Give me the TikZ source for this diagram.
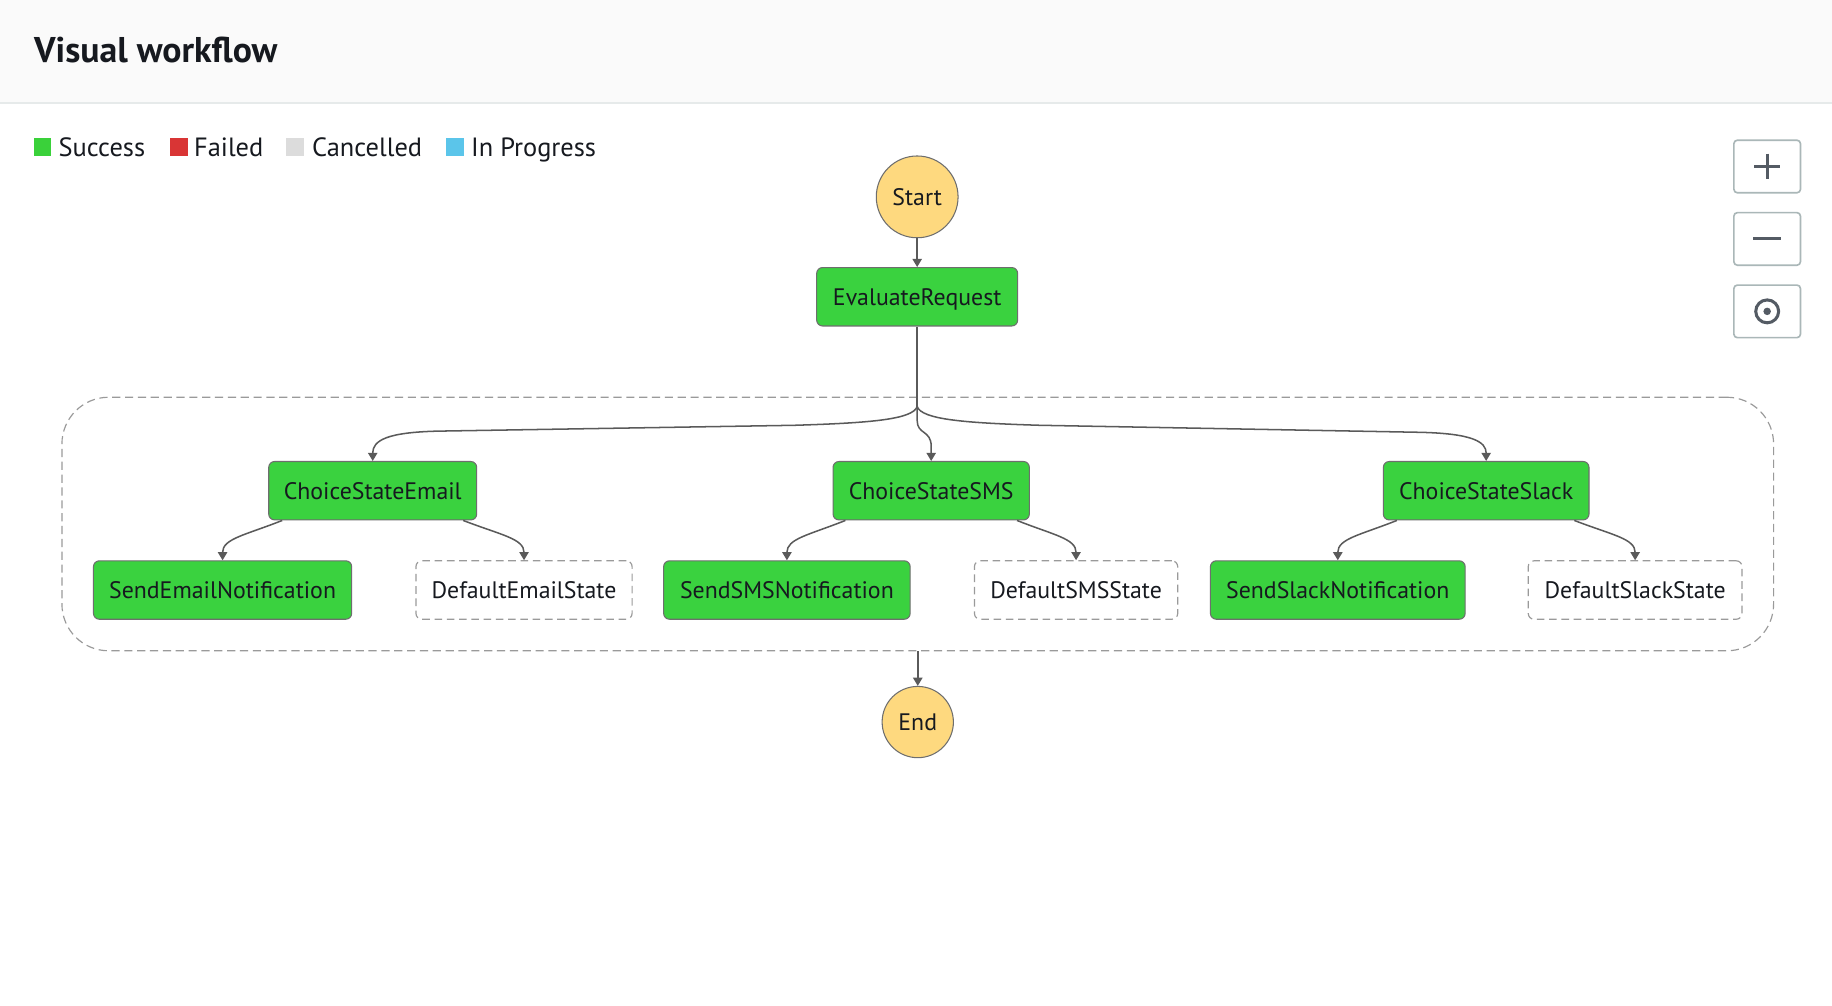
\documentclass[tikz,border=0pt]{standalone}
\usepackage{fontspec}
\setmainfont{PT Sans}
\usetikzlibrary{arrows.meta,calc}
\definecolor{ink}{HTML}{16191F}
\definecolor{hdrbg}{HTML}{FAFAFA}
\definecolor{hdrline}{HTML}{E6EAEA}
\definecolor{okgreen}{HTML}{3AD23F}
\definecolor{lgreen}{HTML}{3AD13A}
\definecolor{lred}{HTML}{D93535}
\definecolor{lgray}{HTML}{DCDCDC}
\definecolor{lblue}{HTML}{5BC5EA}
\definecolor{termfill}{HTML}{FED97F}
\definecolor{edge}{HTML}{5A5A5A}
\definecolor{bord}{HTML}{6E6E6E}
\definecolor{dashc}{HTML}{9A9A9A}
\definecolor{ctrlb}{HTML}{AAB7B8}
\definecolor{iconc}{HTML}{545B64}
\begin{document}
\begin{tikzpicture}[x=1pt,y=-1pt,
  lbl/.style={font=\fontsize{20.4}{23}\selectfont, text=ink},
  okbox/.style={lbl, draw=bord, line width=0.9pt, fill=okgreen, rounded corners=5pt,
    inner sep=0pt, minimum height=50pt, text height=14.3pt, text depth=0pt},
  defbox/.style={lbl, draw=dashc, line width=1pt, dash pattern=on 6.5pt off 4pt, fill=white,
    rounded corners=5pt, inner sep=0pt, minimum height=50pt, text height=14.3pt, text depth=0pt},
  term/.style={lbl, circle, draw=bord, line width=0.9pt, fill=termfill, inner sep=0pt,
    text height=14.3pt, text depth=0pt},
  grp/.style={draw=dashc, line width=1pt, dash pattern=on 7pt off 4pt, rounded corners=40pt,
    inner sep=0pt},
  arr/.style={draw=edge, line width=1.3pt, -{Triangle[length=7pt,width=8pt]}},
  ln/.style={draw=edge, line width=1.3pt},
  legsq/.style={minimum size=15pt, inner sep=0pt},
  legtxt/.style={anchor=base west, font=\fontsize{22.6}{25}\selectfont, text=ink, inner sep=0pt},
  ctrl/.style={draw=ctrlb, line width=1.4pt, rounded corners=3pt, minimum width=57pt,
    minimum height=45pt, inner sep=0pt, fill=white},
  icon/.style={draw=iconc, line width=2.6pt}
]
\useasboundingbox (0,0) rectangle (1568,861);
\fill[white] (0,0) rectangle (1568,861);
\fill[hdrbg] (0,0) rectangle (1568,88);
\draw[hdrline, line width=1.6pt] (0,88.5) -- (1568,88.5);
\node[anchor=base west, inner sep=0pt, font=\bfseries\fontsize{30.6}{33}\selectfont, text=ink] (title) at (29,53.5) {Visual workflow};

% legend
\node[legsq, fill=lgreen] (sq1) at (36.5,126) {};
\node[legtxt] (lt1) at (50,134) {Success};
\node[legsq, fill=lred] (sq2) at (153,126) {};
\node[legtxt] (lt2) at (166,134) {Failed};
\node[legsq, fill=lgray] (sq3) at (252.5,126) {};
\node[legtxt] (lt3) at (267,134) {Cancelled};
\node[legsq, fill=lblue] (sq4) at (389.5,126) {};
\node[legtxt] (lt4) at (403,134) {In Progress};

% zoom controls
\node[ctrl] (zin) at (1512.5,142.5) {};
\node[ctrl] (zout) at (1512.5,204.5) {};
\node[ctrl] (zfit) at (1512.5,266.5) {};
\draw[icon] ($(zin.center)+(-11,0)$) -- ($(zin.center)+(11,0)$);
\draw[icon] ($(zin.center)+(0,-11)$) -- ($(zin.center)+(0,11)$);
\draw[icon] ($(zout.center)+(-12,0)$) -- ($(zout.center)+(12,0)$);
\draw[icon] (zfit.center) circle[radius=9.8pt];
\fill[iconc] (zfit.center) circle[radius=3.2pt];

% group container
\node[grp, minimum width=1465pt, minimum height=217pt] (grp) at (785.5,448.5) {};

% states
\node[term, minimum size=70pt] (start) at (785,168.5) {Start};
\node[okbox, minimum width=172pt] (eval) at (785,254) {EvaluateRequest};
\node[okbox, minimum width=178pt] (ce) at (319,420) {ChoiceStateEmail};
\node[okbox, minimum width=168pt] (cs) at (797,420) {ChoiceStateSMS};
\node[okbox, minimum width=176pt] (cl) at (1272,420) {ChoiceStateSlack};
\node[okbox, minimum width=221pt] (se) at (190.5,505) {SendEmailNotification};
\node[defbox, minimum width=185pt] (de) at (448.5,505) {DefaultEmailState};
\node[okbox, minimum width=211pt] (ss) at (673.5,505) {SendSMSNotification};
\node[defbox, minimum width=174pt] (ds) at (921,505) {DefaultSMSState};
\node[okbox, minimum width=218pt] (sl) at (1145,505) {SendSlackNotification};
\node[defbox, minimum width=183pt] (dl) at (1399.5,505) {DefaultSlackState};
\node[term, minimum size=61pt] (end) at (785.5,618) {End};

\coordinate (split) at (785,348);

% connectors
\draw[arr] (start.south) -- (eval.north);
\draw[ln] (eval.south) -- (split);
\draw[arr] (split) .. controls (781,359) and (745,362) .. (680,364) -- (375,369)
  .. controls (331,370) and (319,377) .. (ce.north);
\draw[arr] (split) -- (785,360) .. controls (785,372) and (797,368) .. (797,382) -- (cs.north);
\draw[arr] (split) .. controls (789,359) and (825,362) .. (890,364) -- (1215,370)
  .. controls (1260,371) and (1272,378) .. (cl.north);

\draw[arr] ([xshift=12pt]ce.south west) .. controls (210,458) and (190.5,461) .. (se.north);
\draw[arr] ([xshift=-12pt]ce.south east) .. controls (429,458) and (448.5,461) .. (de.north);
\draw[arr] ([xshift=11pt]cs.south west) .. controls (692,458) and (673.5,461) .. (ss.north);
\draw[arr] ([xshift=-11pt]cs.south east) .. controls (902,458) and (921,461) .. (ds.north);
\draw[arr] ([xshift=12pt]cl.south west) .. controls (1164,458) and (1145,461) .. (sl.north);
\draw[arr] ([xshift=-13pt]cl.south east) .. controls (1380,458) and (1399.5,461) .. (dl.north);

\draw[arr] (grp.south) -- (end.north);
\end{tikzpicture}
\end{document}
